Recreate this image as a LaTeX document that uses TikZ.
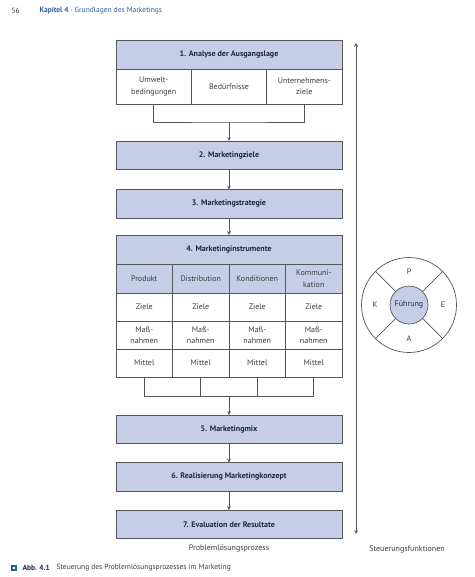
\documentclass[tikz,border=0pt]{standalone}
\usepackage{fontspec}
\setmainfont{PT Sans}
\usetikzlibrary{calc,positioning,arrows}

\definecolor{boxblue}{RGB}{197,206,230}
\definecolor{linegray}{RGB}{85,85,90}
\definecolor{navy}{RGB}{30,38,70}
\definecolor{txtgray}{RGB}{60,60,65}
\definecolor{kapblue}{RGB}{45,95,160}

\begin{document}
\begin{tikzpicture}[x=1pt,y=-1pt,node distance=19pt]
	\tikzstyle{every node}=[font=\fontsize{8}{11.5}\selectfont, text=txtgray]
	\tikzstyle{stage}=[draw=linegray, fill=boxblue, line width=0.7pt, minimum width=226pt, minimum height=28.5pt, inner sep=0pt, outer sep=0pt, font=\fontsize{8}{9}\selectfont\bfseries, text=navy]
	\tikzstyle{cell}=[draw=linegray, fill=white, line width=0.7pt, minimum width=56.5pt, minimum height=28pt, inner sep=0pt, outer sep=0pt, align=center]
	\tikzstyle{flow}=[draw=linegray, line width=0.7pt, >=stealth]
	\tikzstyle{page}=[font=\fontsize{7.5}{8.5}\selectfont]
	\useasboundingbox (0,0) rectangle (474,577);

	% page head
	\node[page, anchor=west] (pg) at (8,11) {56};
	\node[page, anchor=west, text=kapblue] (kap) at (36,11) {\textbf{Kapitel 4} · Grundlagen des Marketings};

	% 1. Analyse
	\node[stage, minimum height=29pt] (a1) at (229,54.5) {1. Analyse der Ausgangslage};
	\node[cell, minimum width=75.33pt, minimum height=35pt, anchor=north west] (umw) at (a1.south west) {Umwelt-\\bedingungen};
	\node[cell, minimum width=75.33pt, minimum height=35pt, right=0pt of umw] (bed) {Bedürfnisse};
	\node[cell, minimum width=75.33pt, minimum height=35pt, right=0pt of bed] (uzi) {Unternehmens-\\ziele};
	\coordinate (j1) at ($(bed.south)+(0,18)$);
	\draw[flow] (umw.south) |- (j1) -| (uzi.south);

	% 2.-4.
	\node[stage, below=of j1] (a2) {2. Marketingziele};
	\node[stage, below=20pt of a2] (a3) {3. Marketingstrategie};
	\node[stage, minimum height=29pt, below=17pt of a3] (a4) {4. Marketinginstrumente};
	\draw[flow,->] (j1) -- (a2);
	\draw[flow,->] (a2) -- (a3);
	\draw[flow,->] (a3) -- (a4);

	\foreach \n/\t [count=\i] in {p/Produkt, d/Distribution, k/Konditionen, m/{Kommuni-\\kation}} {
		\node[cell, fill=boxblue, minimum height=29pt, anchor=north west] (\n1) at ($(a4.south west)+(56.5*\i-56.5,0)$) {\t};
		\node[cell, below=0pt of \n1] (\n2) {Ziele};
		\node[cell, below=0pt of \n2] (\n3) {Maß-\\nahmen};
		\node[cell, below=0pt of \n3] (\n4) {Mittel};
	}
	\coordinate (j2) at ($(p4.south)!0.5!(m4.south)+(0,19)$);
	\draw[flow] (p4.south) -- ++(0,19) -| (m4.south);
	\draw[flow] (d4.south) -- ++(0,19);
	\draw[flow] (k4.south) -- ++(0,19);

	% 5.-7.
	\node[stage, below=of j2] (a5) {5. Marketingmix};
	\node[stage, below=of a5] (a6) {6. Realisierung Marketingkonzept};
	\node[stage, below=of a6] (a7) {7. Evaluation der Resultate};
	\draw[flow,->] (j2) -- (a5);
	\draw[flow,->] (a5) -- (a6);
	\draw[flow,->] (a6) -- (a7);

	% Steuerung
	\coordinate (st) at (356,43);
	\coordinate (sb) at (356,534);
	\draw[flow,<->] (st) -- (sb);
	\node[circle, draw=linegray, line width=0.7pt, minimum size=95pt, inner sep=0pt] (ring) at (409,305) {};
	\node[circle, draw=linegray, fill=boxblue, line width=0.7pt, minimum size=38pt, inner sep=0pt, text=navy] (fu) at (ring.center) {Führung};
	\foreach \a in {45,135,225,315}
		\draw[flow] (fu.\a) -- (ring.\a);
	\node (P) at ($(fu.center)+(0,-33)$) {P};
	\node (A) at ($(fu.center)+(0,34)$) {A};
	\node (K) at ($(fu.center)+(-34,0)$) {K};
	\node (E) at ($(fu.center)+(34,0)$) {E};

	\node (pl) at (229,549) {Problemlösungsprozess};
	\node (sf) at (407,549) {Steuerungsfunktionen};

	% caption
	\node[fill=kapblue, minimum size=6pt, inner sep=0pt] (sq) at (14,568) {};
	\node[fill=white, minimum size=2.5pt, inner sep=0pt] (sqi) at (sq) {};
	\node[page, anchor=west, text=navy] (abb) at (19,568) {\textbf{Abb. 4.1}};
	\node[page, anchor=west] (cap) at (53,568) {Steuerung des Problemlösungsprozesses im Marketing};
\end{tikzpicture}
\end{document}
